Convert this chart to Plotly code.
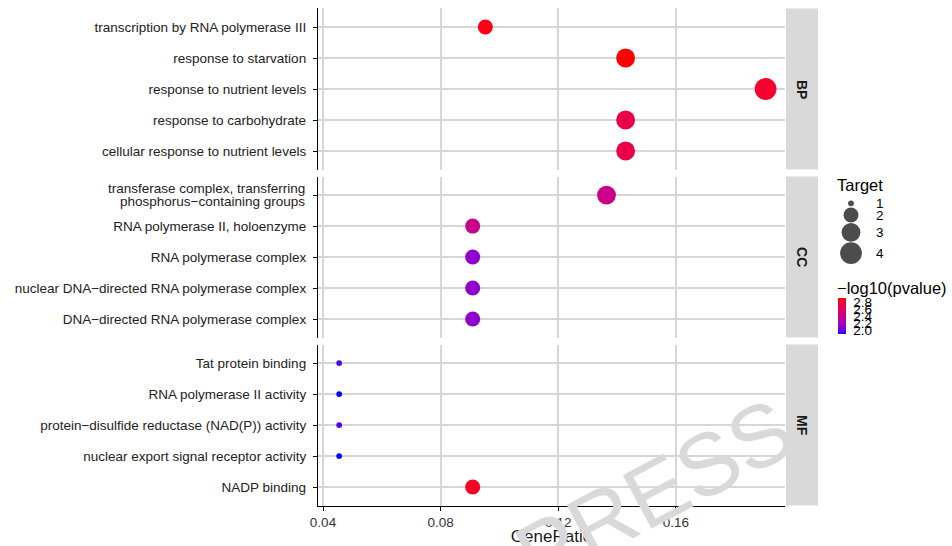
import numpy as np
import plotly.graph_objects as go

# ---------------- data ----------------
bp_terms = ["transcription by RNA polymerase III", "response to starvation",
            "response to nutrient levels", "response to carbohydrate",
            "cellular response to nutrient levels"]
bp_ratio = [0.0952, 0.1429, 0.1905, 0.1429, 0.1429]
bp_count = [2, 3, 4, 3, 3]
bp_logp = [2.87, 2.91, 2.79, 2.68, 2.68]

cc_terms = ["transferase complex, transferring<br>phosphorus\u2212containing groups",
            "RNA polymerase II, holoenzyme", "RNA polymerase complex",
            "nuclear DNA\u2212directed RNA polymerase complex",
            "DNA\u2212directed RNA polymerase complex"]
cc_ratio = [0.1364, 0.0909, 0.0909, 0.0909, 0.0909]
cc_count = [3, 2, 2, 2, 2]
cc_logp = [2.40, 2.39, 2.10, 2.11, 2.10]

mf_terms = ["Tat protein binding", "RNA polymerase II activity",
            "protein\u2212disulfide reductase (NAD(P)) activity",
            "nuclear export signal receptor activity", "NADP binding"]
mf_ratio = [0.0455, 0.0455, 0.0455, 0.0455, 0.0909]
mf_count = [1, 1, 1, 1, 2]
mf_logp = [1.96, 1.89, 1.96, 1.89, 2.83]

facets = ["BP", "CC", "MF"]
x_ticks = [0.04, 0.08, 0.12, 0.16]
target_levels = [1, 2, 3, 4]
cbar_ticks = [2.0, 2.2, 2.4, 2.6, 2.8]

panels = [(bp_terms, bp_ratio, bp_count, bp_logp),
          (cc_terms, cc_ratio, cc_count, cc_logp),
          (mf_terms, mf_ratio, mf_count, mf_logp)]

# ---------------- colour scale (ggplot-like Lab gradient blue -> red) ----------------
def _lin(c):
    c = c / 255.0
    return np.where(c <= 0.04045, c / 12.92, ((c + 0.055) / 1.055) ** 2.4)

M = np.array([[0.4124, 0.3576, 0.1805], [0.2126, 0.7152, 0.0722], [0.0193, 0.1192, 0.9505]])
WP = np.array([0.95047, 1.0, 1.08883])

def rgb2lab(rgb):
    xyz = M @ _lin(np.array(rgb, float)) / WP
    f = np.where(xyz > 0.008856, np.cbrt(xyz), 7.787 * xyz + 16 / 116)
    return np.array([116 * f[1] - 16, 500 * (f[0] - f[1]), 200 * (f[1] - f[2])])

def lab2hex(lab):
    L, a, b = lab
    fy = (L + 16) / 116
    f = np.array([fy + a / 500, fy, fy - b / 200])
    xyz = np.where(f ** 3 > 0.008856, f ** 3, (f - 16 / 116) / 7.787) * WP
    lin = np.linalg.inv(M) @ xyz
    lin = np.clip(lin, 0, 1)
    s = np.where(lin <= 0.0031308, 12.92 * lin, 1.055 * lin ** (1 / 2.4) - 0.055)
    s = np.clip(np.round(s * 255), 0, 255).astype(int)
    return "#%02x%02x%02x" % tuple(s)

lab_lo, lab_hi = rgb2lab([0, 0, 255]), rgb2lab([255, 0, 0])
colorscale = [[t, lab2hex(lab_lo + (lab_hi - lab_lo) * t)] for t in np.linspace(0, 1, 21)]

all_p = bp_logp + cc_logp + mf_logp
pmin, pmax = min(all_p), max(all_p)
all_c = bp_count + cc_count + mf_count
cmin_, cmax_ = min(all_c), max(all_c)

def diam(v):
    s = 1 + 5 * np.sqrt((np.array(v, float) - cmin_) / (cmax_ - cmin_))
    return list(3.2 * s + 2.6)

# ---------------- geometry ----------------
W, H = 952, 546
ML, MR, MT, MB = 318, 2, 8, 40
PW, PH = W - ML - MR, H - MT - MB

def px(xp):
    return (xp - ML) / PW

def py(yp):
    return (H - MB - yp) / PH

panel_right = 785
strip_right = 818
row_px = [(8.4, 169.6), (176.5, 337.6), (344.5, 505.6)]

GRID = "#d6d6d6"
LABEL_FONT = dict(size=13.5, color="#222222")
fig = go.Figure()

for i, (terms, ratio, count, logp) in enumerate(panels):
    k = "" if i == 0 else str(i + 1)
    fig.add_trace(go.Scatter(
        x=ratio, y=terms, mode="markers", xaxis="x" + k, yaxis="y" + k,
        showlegend=False, hoverinfo="skip",
        marker=dict(size=diam(count), sizemode="diameter", color=logp,
                    colorscale=colorscale, cmin=pmin, cmax=pmax,
                    line=dict(width=0), opacity=1,
                    showscale=(i == 0),
                    colorbar=dict(x=px(838), xanchor="left", xpad=0,
                                  y=py(334), yanchor="bottom", ypad=0,
                                  len=36, lenmode="pixels", thickness=8,
                                  thicknessmode="pixels", outlinewidth=0,
                                  tickvals=cbar_ticks,
                                  ticktext=["%.1f" % v for v in cbar_ticks],
                                  ticks="outside", ticklen=5, tickcolor="white",
                                  tickfont=dict(size=13.5, color="#000000"))),
    ))
    top, bot = row_px[i]
    last = i == 2
    # multi-line labels are drawn as stacked annotations (tighter line spacing, like ggplot)
    ticktext = ["" if "<br>" in t else t for t in terms]
    fig.layout["xaxis" + k] = dict(
        domain=[0, px(panel_right)], anchor="y" + k, range=[0.0383, 0.1971],
        tickvals=x_ticks, ticktext=["%.2f" % v for v in x_ticks],
        showgrid=True, gridcolor=GRID, gridwidth=1.6, zeroline=False,
        showticklabels=last, showline=last, linecolor="#000000", linewidth=1.3,
        ticks="outside" if last else "", ticklen=4, tickwidth=1.2, tickcolor="#000000",
        tickfont=dict(size=13.5, color="#333333"),
        title=dict(text="GeneRatio" if last else "", font=dict(size=17, color="#1a1a1a"),
                   standoff=0),
        fixedrange=True,
        **({} if i == 0 else {"matches": "x"}))
    fig.layout["yaxis" + k] = dict(
        domain=[py(bot), py(top)], anchor="x" + k, type="category",
        categoryorder="array", categoryarray=list(reversed(terms)),
        tickvals=terms, ticktext=ticktext,
        range=[-0.6, 4.6], showgrid=True, gridcolor=GRID, gridwidth=1.6,
        zeroline=False, showline=True, linecolor="#000000", linewidth=1.3,
        ticks="outside", ticklen=4, tickwidth=1.2, tickcolor="#000000",
        ticklabelstandoff=4,
        tickfont=LABEL_FONT, fixedrange=True)
    for t in terms:
        if "<br>" in t:
            lines = t.split("<br>")
            for li, line in enumerate(lines):
                off = (li - (len(lines) - 1) / 2) * 12.5
                fig.add_annotation(xref="x" + k + " domain", yref="y" + k, x=0, y=t,
                                   yshift=-off, xshift=-11, text=line, showarrow=False,
                                   xanchor="right", yanchor="middle", font=LABEL_FONT)
    # strip
    fig.add_shape(type="rect", xref="paper", yref="paper",
                  x0=px(panel_right + 1), x1=px(strip_right), y0=py(bot), y1=py(top),
                  fillcolor="#d9d9d9", line=dict(width=0), layer="below")
    fig.add_annotation(xref="paper", yref="paper", x=px((panel_right + 1 + strip_right) / 2),
                       y=py((top + bot) / 2), text="<b>%s</b>" % facets[i], textangle=90,
                       showarrow=False, font=dict(size=14, color="#1a1a1a"),
                       xanchor="center", yanchor="middle")

# ---------------- size key ----------------
key_d = diam(target_levels)
key_h = [max(d + 0.4, 8) for d in key_d]
centers = []
c = 203.3
for j, h in enumerate(key_h):
    if j > 0:
        c += (key_h[j - 1] + h) / 2
    centers.append(c)
fig.add_trace(go.Scatter(
    x=[851] * len(target_levels), y=centers, mode="markers", xaxis="x4", yaxis="y4",
    showlegend=False, hoverinfo="skip",
    marker=dict(size=key_d, sizemode="diameter", color="#000000", line=dict(width=0))))
fig.layout["xaxis4"] = dict(domain=[px(830), px(900)], range=[830, 900], visible=False,
                            anchor="y4", fixedrange=True)
fig.layout["yaxis4"] = dict(domain=[py(275), py(190)], range=[275, 190], visible=False,
                            anchor="x4", fixedrange=True)
for lv, cy in zip(target_levels, centers):
    fig.add_annotation(xref="x4", yref="y4", x=874, y=cy, text=str(lv), showarrow=False,
                       xanchor="left", yanchor="middle", font=dict(size=13.5, color="#000000"))

fig.add_annotation(xref="paper", yref="paper", x=px(835), y=py(185), text="Target",
                   showarrow=False, xanchor="left", yanchor="middle",
                   font=dict(size=16.5, color="#000000"))
fig.add_annotation(xref="paper", yref="paper", x=px(835), y=py(288), text="\u2212log10(pvalue)",
                   showarrow=False, xanchor="left", yanchor="middle",
                   font=dict(size=16.5, color="#000000"))

# watermark
fig.add_annotation(xref="paper", yref="paper", x=px(654), y=py(492), text="PRESS",
                   showarrow=False, textangle=-28, xanchor="center", yanchor="middle",
                   font=dict(size=88, color="#d9d9d9"))

fig.update_layout(
    width=W, height=H, margin=dict(l=ML, r=MR, t=MT, b=MB, autoexpand=False),
    paper_bgcolor="white", plot_bgcolor="white",
    font=dict(family="Liberation Sans, Arial, sans-serif", color="#222222"),
    showlegend=False,
)

fig.write_html("out.html", config={"displayModeBar": False},
               post_script="document.body.style.margin='0';")
